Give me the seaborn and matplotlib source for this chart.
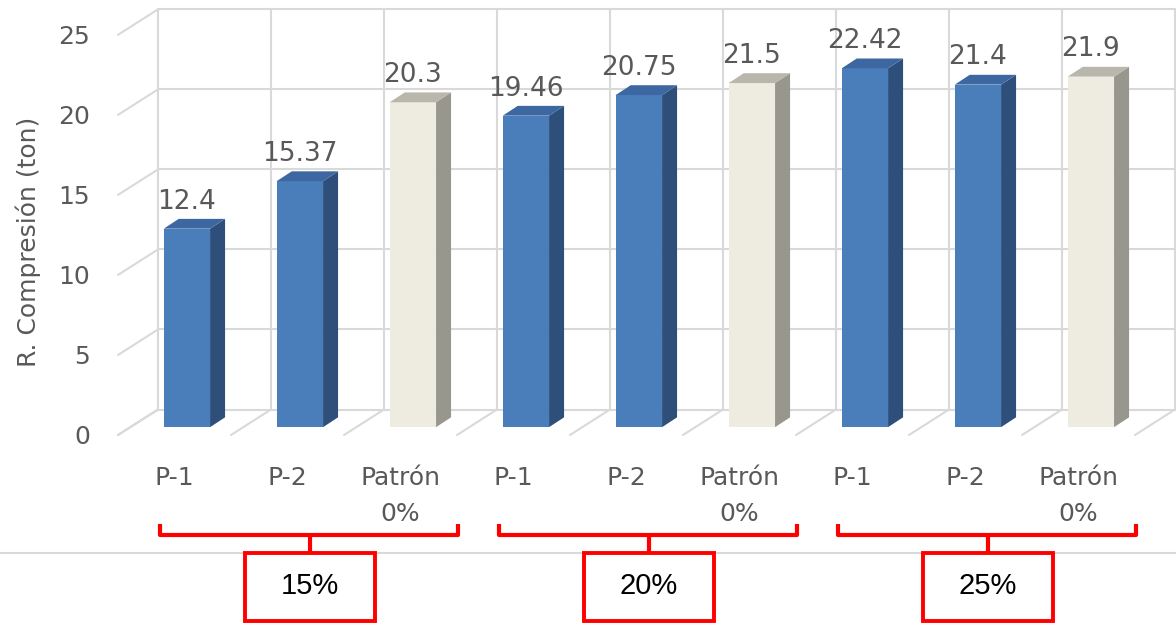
import pandas as pd
import matplotlib.pyplot as plt
import matplotlib.transforms as mtransforms
from matplotlib.patches import Polygon, Rectangle
import seaborn as sns

# Datos
grupos = ["15%", "20%", "25%"]
muestras = ["P-1", "P-2", "Patrón\n0%"]
tipos = ["Aditivo", "Aditivo", "Patrón"]
valores = [12.4, 15.37, 20.3, 19.46, 20.75, 21.5, 22.42, 21.4, 21.9]
yticks = [0, 5, 10, 15, 20, 25]

# Colores (cara frontal, superior, lateral)
col_front = {"Aditivo": "#4A7EBB", "Patrón": "#EEECE1"}
col_top = {"Aditivo": "#3D67A0", "Patrón": "#B9B6AB"}
col_side = {"Aditivo": "#2E4F7A", "Patrón": "#98978D"}
gris = "#D9D9D9"
texto = "#595959"

df = pd.DataFrame({
    "id": [f"{g} {m}" for g in grupos for m in muestras],
    "muestra": [m for g in grupos for m in muestras],
    "tipo": tipos * len(grupos),
    "valor": valores,
})

sns.set_style("white")
plt.rcParams["font.family"] = ["DejaVu Sans"]

W, H = 1176, 624
fig = plt.figure(figsize=(W / 100, H / 100), dpi=100)
ax = fig.add_axes([130.4 / W, 189 / H, 1017 / W, 408 / H])
ax.set_facecolor("none")

sns.barplot(data=df, x="id", y="valor", hue="tipo", palette=col_front,
            width=0.41, dodge=False, legend=False, saturation=1,
            linewidth=0, ax=ax, zorder=3)
n = len(df)
ax.set_xlim(-0.5, n - 0.5)
ax.set_ylim(0, 25)

# desplazamientos 3D (en unidades de datos)
ux, uy = 113.0, 408 / 25
bdx, bdy = 27.6 / ux, 18 / uy     # pared del fondo
fdx, fdy = -12.4 / ux, -8 / uy    # plano frontal
sdx, sdy = 15 / ux, 10 / uy       # profundidad de la barra

# pared del fondo y piso
for v in yticks:
    ax.plot([-0.5 + bdx, n - 0.5 + bdx], [v + bdy] * 2, color=gris, lw=1.5,
            zorder=0, clip_on=False)
    ax.plot([-0.5 + fdx, -0.5 + bdx], [v + fdy, v + bdy], color=gris, lw=1.5,
            zorder=0, clip_on=False)
for k in range(n + 1):
    xk = k - 0.5
    ax.plot([xk + bdx] * 2, [bdy, 25 + bdy], color=gris, lw=1.5, zorder=0,
            clip_on=False)
    ax.plot([xk + fdx, xk + bdx], [fdy, bdy], color=gris, lw=1.5, zorder=0,
            clip_on=False)

# caras laterales y superiores + etiquetas
for p in ax.patches:
    h = p.get_height()
    if h <= 0:
        continue
    x0 = p.get_x()
    x1 = x0 + p.get_width()
    i = int(round(x0 + p.get_width() / 2))
    t = df["tipo"].iloc[i]
    side = Polygon([(x1, 0), (x1 + sdx, sdy), (x1 + sdx, h + sdy), (x1, h)],
                   closed=True, facecolor=col_side[t], edgecolor="none",
                   zorder=3, clip_on=False)
    top = Polygon([(x0, h), (x1, h), (x1 + sdx, h + sdy), (x0 + sdx, h + sdy)],
                  closed=True, facecolor=col_top[t], edgecolor="none",
                  zorder=3, clip_on=False)
    ax.add_patch(side)
    ax.add_patch(top)
    ax.annotate(f"{df['valor'].iloc[i]:g}", (x0 + p.get_width() / 2, h),
                xytext=(0, 14.5), textcoords="offset points", ha="center",
                va="baseline", fontsize=19, color=texto, annotation_clip=False)

# ejes
for s in ax.spines.values():
    s.set_visible(False)
ax.set_xticks([i + fdx for i in range(n)], df["muestra"])
ax.set_yticks([v + fdy for v in yticks], [str(v) for v in yticks])
ax.tick_params(axis="x", length=0, pad=22, labelsize=18, labelcolor=texto)
ax.tick_params(axis="y", length=0, pad=29, labelsize=18, labelcolor=texto)
for lab in ax.get_xticklabels():
    lab.set_linespacing(1.65)
ax.set_xlabel("")
ax.set_ylabel("")

# capa de anotaciones en pixeles
ov = fig.add_axes([0, 0, 1, 1], zorder=5)
ov.set_facecolor("none")
ov.set_xlim(0, W)
ov.set_ylim(H, 0)
ov.axis("off")
blend = mtransforms.blended_transform_factory(ax.transData, ov.transData)

ov.plot([0, W], [553, 553], color=gris, lw=1.5, zorder=1)
ov.text(28, 242, "R. Compresión (ton)", rotation=90, ha="center",
        va="center", fontsize=18, color=texto)

for g, nombre in enumerate(grupos):
    L, R, C = 3 * g - 0.24, 3 * g + 2.4, 3 * g + 1.09
    ov.plot([L, L, R, R], [524, 535, 535, 524], color="#FF0000", lw=3,
            solid_joinstyle="round", solid_capstyle="butt", transform=blend,
            zorder=2)
    ov.plot([C, C], [535, 553], color="#FF0000", lw=3, transform=blend,
            zorder=2)
    ov.add_patch(Rectangle((C - 0.575, 553), 1.15, 68, facecolor="white",
                           edgecolor="#FF0000", lw=2.8, transform=blend,
                           zorder=3))
    ov.text(C, 586, nombre, ha="center", va="center", fontsize=21,
            family="Liberation Sans", color="black", transform=blend,
            zorder=4)

fig.savefig("out.png", dpi=100)
